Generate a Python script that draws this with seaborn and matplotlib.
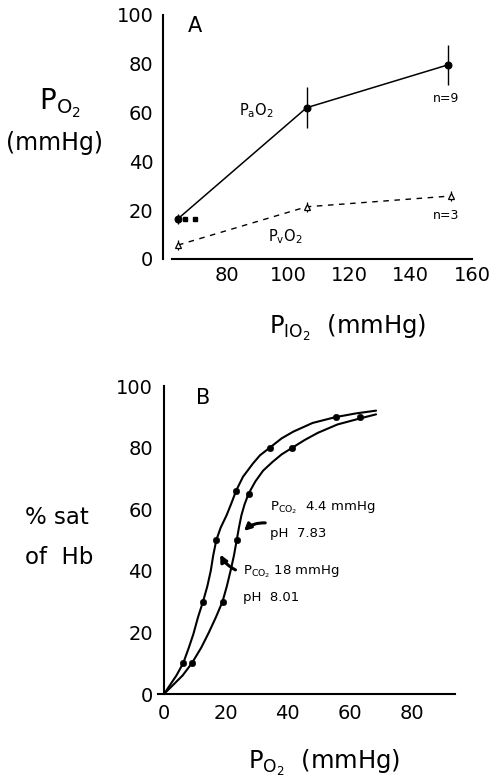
import matplotlib
matplotlib.use("Agg")
import matplotlib.pyplot as plt
import seaborn as sns
import pandas as pd

sns.set_theme(style="white")
plt.rcParams['font.family'] = ['DejaVu Sans']
plt.rcParams['mathtext.fontset'] = 'dejavusans'
plt.rcParams['text.color'] = 'black'
plt.rcParams['axes.labelcolor'] = 'black'
plt.rcParams['xtick.color'] = 'black'
plt.rcParams['ytick.color'] = 'black'

# ---------------- Panel A data ----------------
pio2 = [64, 106, 152]
pao2 = [16.5, 62, 79.5]
pao2_err = [2, 8.5, 8.3]
pvo2_x = [64, 106, 153]
pvo2 = [5.7, 21.4, 25.8]
pvo2_err = [2, 2, 2]
pao2_extra_x = [66.3, 69.5]
pao2_extra_y = [16.5, 16.5]
a_xticks = [80, 100, 120, 140, 160]
a_yticks = [0, 20, 40, 60, 80, 100]

# ---------------- Panel B data ----------------
# curve (left curve = PCO2 18 mmHg, pH 8.01)
left_curve_x = [0, 2, 4, 6.2, 8, 9.5, 11, 12.6, 14, 15.1, 15.9, 16.9, 18.3, 20.2,
                21.8, 23.3, 25.5, 28.7, 31, 34.2, 38, 41.8, 48, 55.4, 62, 68.5]
left_curve_y = [0, 3, 6, 10, 15, 19.5, 25, 30, 35, 40, 45, 50, 54, 58,
                62, 66, 70.5, 74.8, 77.5, 80, 83, 85.2, 88, 89.9, 91.1, 92]
left_pts_x = [6.2, 12.6, 16.9, 23.3, 34.2, 55.4]
left_pts_y = [10, 30, 50, 66, 80, 90]
# right curve = PCO2 4.4 mmHg, pH 7.83
right_curve_x = [0, 3, 6, 9, 12, 14.5, 16.8, 18.9, 20.3, 21.5, 22.6, 23.5, 24.2, 25,
                 26, 27.3, 29.5, 32, 35, 38, 41.5, 45.5, 49.7, 56, 63.4, 68.5]
right_curve_y = [0, 3, 6, 10, 15, 20, 25, 30, 35, 40, 45, 50, 54, 58,
                 61.5, 65, 69, 72.5, 75.3, 77.8, 80, 82.5, 84.8, 87.5, 89.5, 90.8]
right_pts_x = [9, 18.9, 23.5, 27.3, 41.5, 63.4]
right_pts_y = [10, 30, 50, 65, 80, 90]
b_xticks = [0, 20, 40, 60, 80]
b_yticks = [0, 20, 40, 60, 80, 100]

W, H = 490, 784
fig = plt.figure(figsize=(W / 100, H / 100), dpi=100)

# ================= Panel A =================
axA = fig.add_axes([163 / W, 1 - 259 / H, (472 - 163) / W, (259 - 15) / H])
dfa = pd.DataFrame({"x": pio2, "y": pao2})
sns.lineplot(data=dfa, x="x", y="y", ax=axA, color="black", lw=1.1,
             marker="o", markersize=5, markeredgecolor="black", sort=False)
axA.errorbar(pio2, pao2, yerr=pao2_err, fmt="none", ecolor="black", elinewidth=1.0, capsize=0)
axA.plot(pao2_extra_x, pao2_extra_y, ls="none", marker="s", ms=2.8, color="black")

dfv = pd.DataFrame({"x": pvo2_x, "y": pvo2})
sns.lineplot(data=dfv, x="x", y="y", ax=axA, color="black", lw=1.0,
             dashes=False, sort=False)
axA.lines[-1].set_dashes([4, 4])
axA.errorbar(pvo2_x, pvo2, yerr=pvo2_err, fmt="none", ecolor="black", elinewidth=0.9, capsize=0)
axA.plot(pvo2_x, pvo2, ls="none", marker="^", ms=5, mfc="white", mec="black", mew=0.9)

for s in ["top", "right"]:
    axA.spines[s].set_visible(False)
for s in ["left", "bottom"]:
    axA.spines[s].set_color("black")
    axA.spines[s].set_linewidth(1.5)
axA.spines["bottom"].set_bounds(62, 160)
axA.set_xlim(59.1, 160)
axA.set_ylim(0, 100)
axA.set_xticks(a_xticks)
axA.set_yticks(a_yticks)
axA.set_xticklabels([str(t) for t in a_xticks], fontsize=14)
axA.set_yticklabels([str(t) for t in a_yticks], fontsize=14)
axA.tick_params(axis="x", direction="in", length=4, width=1.2, pad=5, colors="black")
axA.tick_params(axis="y", direction="out", length=5, width=1.5, pad=2, colors="black")
axA.set_xlabel("")
axA.set_ylabel("")
for art in axA.lines:
    art.set_clip_on(False)

axA.text(69.4, 95.5, "A", fontsize=15, ha="center", va="center")
axA.text(89.7, 61, r"P$_\mathrm{a}$O$_2$", fontsize=10.5, ha="center", va="center")
axA.text(151.4, 65.6, "n=9", fontsize=9, ha="center", va="center")
axA.text(151.4, 18, "n=3", fontsize=9, ha="center", va="center")
axA.text(98.9, 9, r"P$_\mathrm{v}$O$_2$", fontsize=10.5, ha="center", va="center")

fig.text(60 / W, 1 - 103 / H, r"P$_{\mathrm{O_2}}$", fontsize=20, ha="center", va="center")
fig.text(54 / W, 1 - 143 / H, "(mmHg)", fontsize=17, ha="center", va="center")
fig.text(348 / W, 1 - 328 / H, r"P$_{\mathrm{IO_2}}$  (mmHg)", fontsize=17.5, ha="center", va="center")

# ================= Panel B =================
axB = fig.add_axes([158 / W, 1 - 694 / H, (455 - 158) / W, 308 / H])
for s in ["top", "right"]:
    axB.spines[s].set_visible(False)
for s in ["left", "bottom"]:
    axB.spines[s].set_color("black")
    axB.spines[s].set_linewidth(1.5)
axB.spines["left"].set_position(("data", 0))

dfl = pd.DataFrame({"x": left_curve_x, "y": left_curve_y})
dfr = pd.DataFrame({"x": right_curve_x, "y": right_curve_y})
sns.lineplot(data=dfl, x="x", y="y", ax=axB, color="black", lw=1.5, sort=False)
sns.lineplot(data=dfr, x="x", y="y", ax=axB, color="black", lw=1.5, sort=False)
sns.scatterplot(x=left_pts_x, y=left_pts_y, ax=axB, color="black", s=22, edgecolor="black", zorder=3)
sns.scatterplot(x=right_pts_x, y=right_pts_y, ax=axB, color="black", s=22, edgecolor="black", zorder=3)

axB.set_xlim(-1.94, 94)
axB.set_ylim(0, 100)
axB.set_xticks(b_xticks)
axB.set_yticks(b_yticks)
axB.set_xticklabels([str(t) for t in b_xticks], fontsize=14)
axB.set_yticklabels([str(t) for t in b_yticks], fontsize=14)
axB.tick_params(axis="x", direction="in", length=4, width=1.2, pad=7, colors="black")
axB.tick_params(axis="y", direction="in", length=4, width=1.2, pad=8, colors="black")
axB.set_xlabel("")
axB.set_ylabel("")

axB.text(12.6, 96, "B", fontsize=15, ha="center", va="center")
axB.text(34.2, 60.4, r"P$_{\mathrm{CO_2}}$  4.4 mmHg", fontsize=9.5, ha="left", va="center")
axB.text(34.2, 52, "pH  7.83", fontsize=9.5, ha="left", va="center")
axB.text(25.5, 39.6, r"P$_{\mathrm{CO_2}}$ 18 mmHg", fontsize=9.5, ha="left", va="center")
axB.text(25.5, 31.2, "pH  8.01", fontsize=9.5, ha="left", va="center")
axB.annotate("", xy=(25.2, 52.3), xytext=(33.6, 55.5),
             arrowprops=dict(arrowstyle="-|>", color="black", lw=2.2,
                             connectionstyle="arc3,rad=0.25", mutation_scale=10))
axB.annotate("", xy=(17.8, 46.1), xytext=(23.9, 39.9),
             arrowprops=dict(arrowstyle="-|>", color="black", lw=2.2,
                             connectionstyle="arc3,rad=-0.2", mutation_scale=10))

fig.text(57 / W, 1 - 517 / H, "% sat", fontsize=16.5, ha="center", va="center")
fig.text(59 / W, 1 - 557 / H, "of  Hb", fontsize=16.5, ha="center", va="center")
fig.text(324 / W, 1 - 763 / H, r"P$_{\mathrm{O_2}}$  (mmHg)", fontsize=17.5, ha="center", va="center")

fig.savefig("out.png", dpi=100, facecolor="white")
